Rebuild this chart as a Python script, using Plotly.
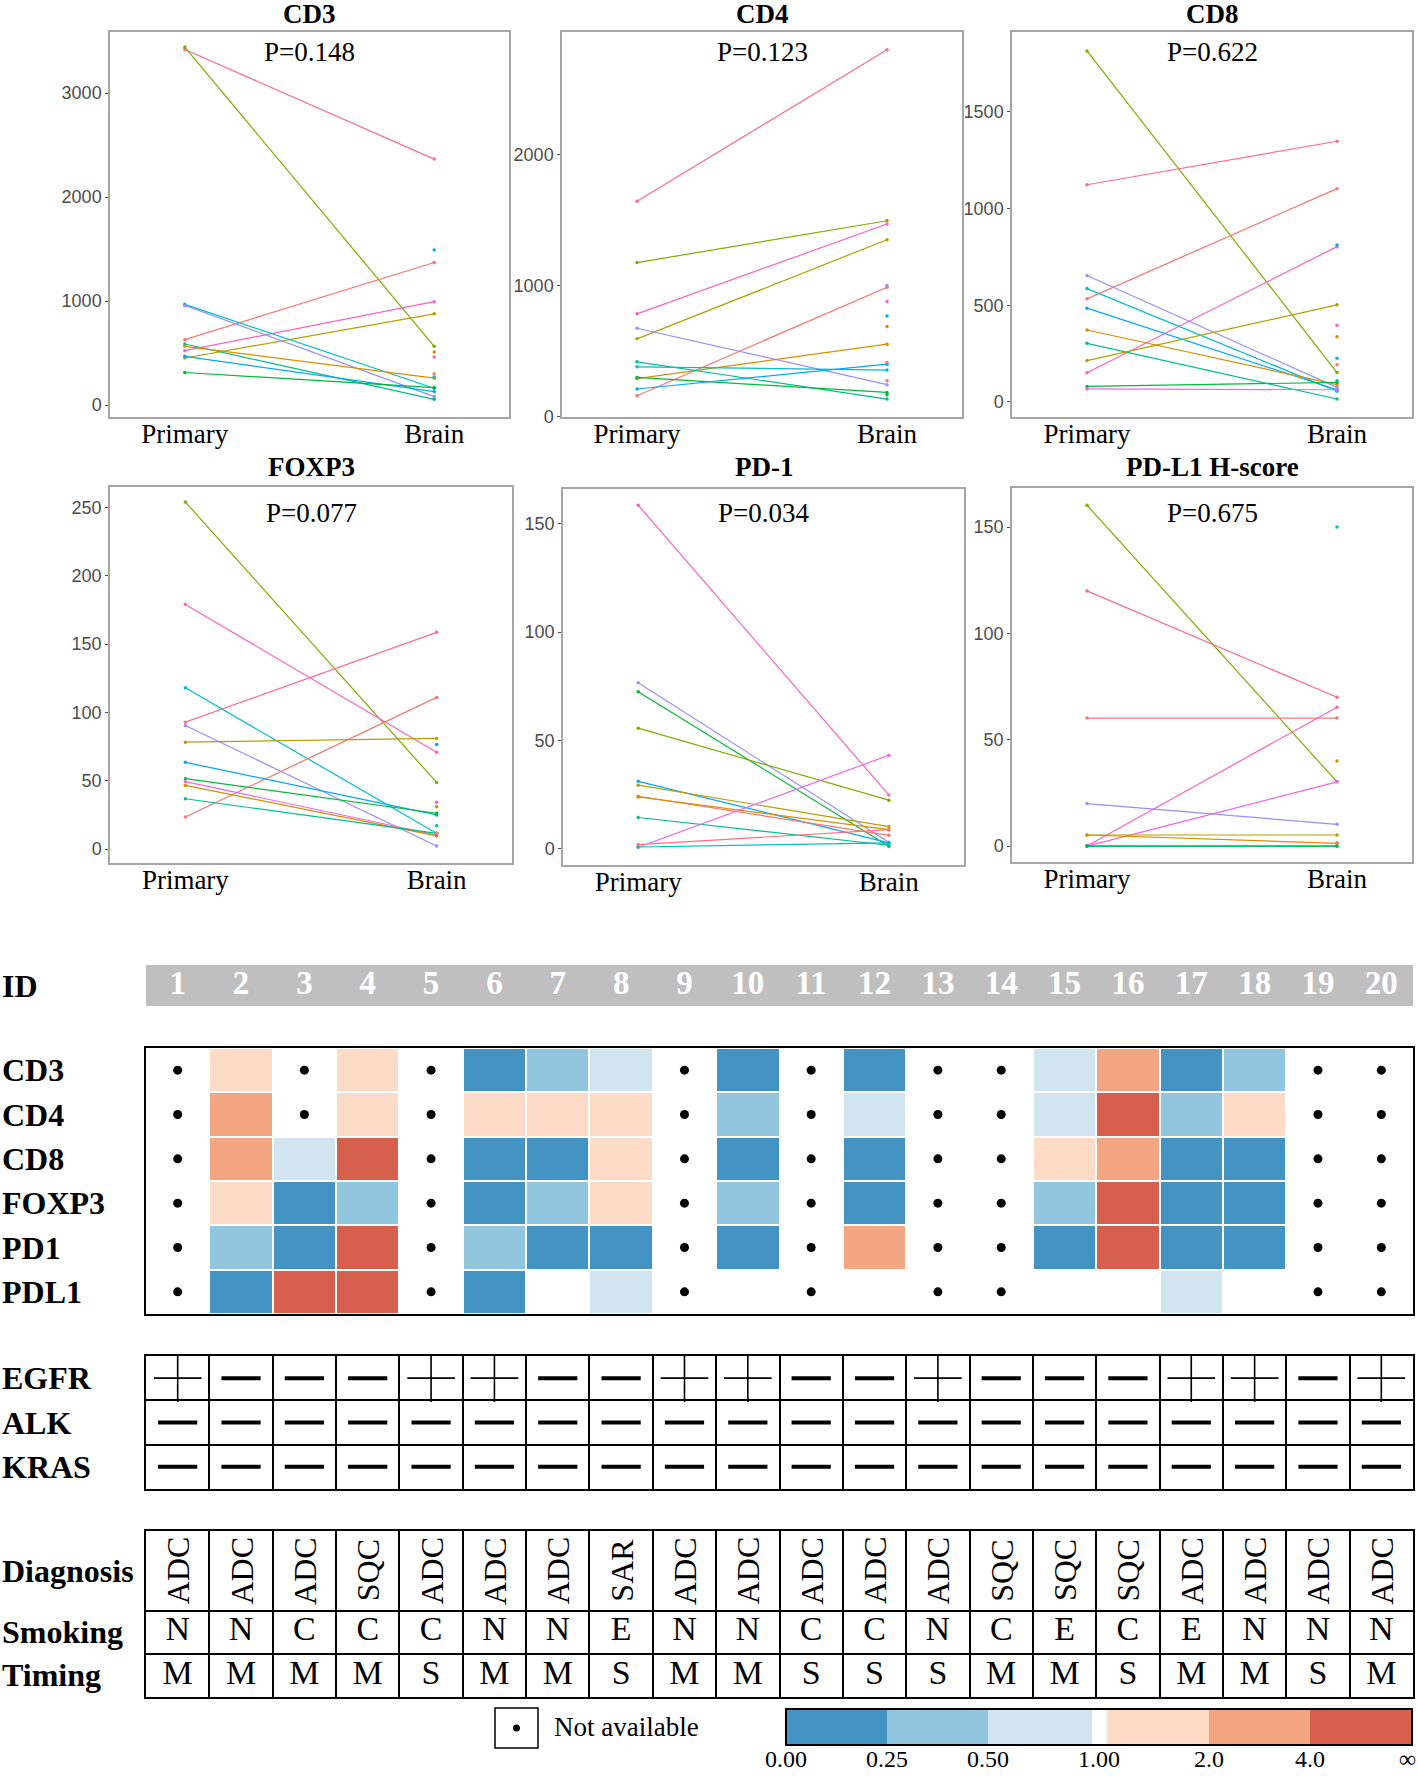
import numpy as np
import plotly.graph_objects as go

W, H = 1418, 1776
SERIF = "Liberation Serif"
SANS = "Liberation Sans"

# ---------------- paired line-plot data (Primary -> Brain) ----------------
SITES = ["Primary", "Brain"]
PANEL_TITLES = ["CD3", "CD4", "CD8", "FOXP3", "PD-1", "PD-L1 H-score"]
P_TEXT = ["P=0.148", "P=0.123", "P=0.622", "P=0.077", "P=0.034", "P=0.675"]

cd3_pts = ["L", "D", "A", "J", "C", "G", "I", "F", "B", "H", "E"]
cd3_primary = [3419, 3442, 629, 523, 452, 968, 958, 587, 565, 468, 313]
cd3_brain = [2365, 565, 1371, 994, 877, 161, 81, 55, 258, 129, 168]
cd3_bo_pts = ["H", "B", "J", "A", "G"]
cd3_bo = [1490, 510, 461, 300, 270]

cd4_pts = ["L", "D", "J", "C", "I", "A", "B", "F", "G", "E", "H"]
cd4_primary = [1646, 1176, 784, 593, 674, 158, 288, 417, 379, 298, 209]
cd4_brain = [2804, 1496, 1471, 1351, 242, 987, 552, 132, 354, 183, 399]
cd4_bo_pts = ["I", "J", "H", "B", "A", "L", "E"]
cd4_bo = [1000, 878, 768, 687, 412, 272, 165]

cd8_pts = ["D", "L", "A", "J", "I", "G", "H", "B", "F", "C", "E", "K"]
cd8_primary = [1815, 1123, 533, 151, 654, 586, 485, 372, 303, 214, 80, 67]
cd8_brain = [152, 1348, 1103, 803, 75, 55, 63, 89, 15, 502, 101, 63]
cd8_bo_pts = ["H", "J", "B", "G", "A", "F"]
cd8_bo = [812, 397, 337, 226, 192, 110]

foxp3_pts = ["D", "J", "L", "G", "A", "I", "C", "H", "E", "K", "B", "F"]
foxp3_primary = [254, 179, 92.9, 118, 23.5, 90.4, 78.2, 63.5, 51.5, 49.3, 46.6, 36.8]
foxp3_brain = [48.8, 70.8, 158.6, 11.5, 111, 2.2, 81, 25, 26.2, 10.3, 9.6, 11.5]
foxp3_bo_pts = ["H", "J", "B", "F", "A"]
foxp3_bo = [76.5, 34.3, 31, 17, 11.5]

pd1_pts = ["J", "I", "E", "D", "H", "C", "A", "B", "F", "K", "M", "G"]
pd1_primary = [158.5, 76.6, 72.5, 55.7, 31.2, 29.4, 24.3, 24.0, 14.5, 0.8, 2.0, 0.9]
pd1_brain = [24.9, 3.1, 1.2, 22.5, 2.8, 10.3, 6.3, 8.9, 1.7, 43.2, 8.9, 2.8]
pd1_bo_pts = []
pd1_bo = []

pdl1_pts = ["D", "L", "A", "J", "K", "I", "C", "B", "H", "E"]
pdl1_primary = [160.3, 120, 60.2, 0, 0, 20, 5.2, 5.2, 0, 0]
pdl1_brain = [30.2, 70, 60.2, 65.3, 30.2, 10.2, 5.2, 1.25, 0, 0]
pdl1_bo_pts = ["G", "B", "A"]
pdl1_bo = [150, 40, 1.6]

PANEL_DATA = [
    (cd3_pts, cd3_primary, cd3_brain, cd3_bo_pts, cd3_bo),
    (cd4_pts, cd4_primary, cd4_brain, cd4_bo_pts, cd4_bo),
    (cd8_pts, cd8_primary, cd8_brain, cd8_bo_pts, cd8_bo),
    (foxp3_pts, foxp3_primary, foxp3_brain, foxp3_bo_pts, foxp3_bo),
    (pd1_pts, pd1_primary, pd1_brain, pd1_bo_pts, pd1_bo),
    (pdl1_pts, pdl1_primary, pdl1_brain, pdl1_bo_pts, pdl1_bo),
]
Y_TICKS = [[0, 1000, 2000, 3000], [0, 1000, 2000], [0, 500, 1000, 1500],
           [0, 50, 100, 150, 200, 250], [0, 50, 100, 150], [0, 50, 100, 150]]

# ---------------- heatmap / table data ----------------
IDS = list(range(1, 21))
HEAT_ROWS = ["CD3", "CD4", "CD8", "FOXP3", "PD1", "PDL1"]
NA = "NA"        # not available (dot)
# None = ratio undefined (blank cell)
fc_cd3 = [NA, 1.5, NA, 1.5, NA, 0.15, 0.4, 0.75, NA, 0.15, NA, 0.15, NA, NA, 0.75, 3, 0.15, 0.4, NA, NA]
fc_cd4 = [NA, 3, NA, 1.5, NA, 1.5, 1.5, 1.5, NA, 0.4, NA, 0.75, NA, NA, 0.75, 6, 0.4, 1.5, NA, NA]
fc_cd8 = [NA, 3, 0.75, 6, NA, 0.15, 0.15, 1.5, NA, 0.15, NA, 0.15, NA, NA, 1.5, 3, 0.15, 0.15, NA, NA]
fc_foxp3 = [NA, 1.5, 0.15, 0.4, NA, 0.15, 0.4, 1.5, NA, 0.4, NA, 0.15, NA, NA, 0.4, 6, 0.15, 0.15, NA, NA]
fc_pd1 = [NA, 0.4, 0.15, 6, NA, 0.4, 0.15, 0.15, NA, 0.15, NA, 3, NA, NA, 0.15, 6, 0.15, 0.15, NA, NA]
fc_pdl1 = [NA, 0.15, 6, 6, NA, 0.15, None, 0.75, NA, None, NA, None, NA, NA, None, None, 0.75, None, NA, NA]
HEAT_DATA = [fc_cd3, fc_cd4, fc_cd8, fc_foxp3, fc_pd1, fc_pdl1]

CB_LABELS = ["0.00", "0.25", "0.50", "1.00", "2.0", "4.0", "∞"]
CB_RATIOS = [0, 0.25, 0.5, 1, 2, 4, 8]

MUT_ROWS = ["EGFR", "ALK", "KRAS"]
egfr = list("+---++--++--+---++-+")
alk = list("-" * 20)
kras = list("-" * 20)
MUT_DATA = [egfr, alk, kras]

diagnosis = ["ADC", "ADC", "ADC", "SQC", "ADC", "ADC", "ADC", "SAR", "ADC", "ADC",
             "ADC", "ADC", "ADC", "SQC", "SQC", "SQC", "ADC", "ADC", "ADC", "ADC"]
smoking = list("NNCCCNNENNCCNCECENNN")
timing = list("MMMMSMMSMMSSSMMSMMSM")

# ---------------- styles / geometry ----------------
PATIENT_COLORS = {"A": "#F8766D", "B": "#D89000", "C": "#B79F00", "D": "#7CAE00",
                  "E": "#00BA38", "F": "#00C08B", "G": "#00BFC4", "H": "#00A9FF",
                  "I": "#9590FF", "J": "#FF61C3", "K": "#F564E3", "L": "#FF6C91",
                  "M": "#FC717F"}
PANEL_BOX = [(110, 509, 32, 417), (562, 962, 32, 417), (1012, 1412, 32, 417),
             (110, 512, 487, 863), (563, 964, 489, 865), (1012, 1412, 488, 862)]
Y_RANGE = [[-115, 3587], [-5, 2940], [-78, 1913], [-10.2, 265], [-7.4, 166], [-7.5, 168.4]]
TITLE_Y = [14, 14, 14, 467, 467, 467]
PTXT_Y = [52, 52, 52, 513, 513, 513]

CB_X0, CB_X1 = 786, 1412
CB_POS = [0, 0.161, 0.323, 0.5, 0.675, 0.837, 1]
CB_EDGES = [0, 0.161, 0.323, 0.489, 0.512, 0.675, 0.837, 1]
CB_COLORS = ["#4393C3", "#92C5DE", "#D1E5F0", "#FFFFFF", "#FDDBC7", "#F4A582", "#D6604D"]


def xdom(x0, x1):
    return [x0 / W, x1 / W]


def ydom(y0, y1):
    return [1 - y1 / H, 1 - y0 / H]


fig = go.Figure()
layout = dict(width=W, height=H, margin=dict(l=0, r=0, t=0, b=0, autoexpand=False),
              autosize=False, plot_bgcolor="white", paper_bgcolor="white", showlegend=False)
annotations = []
shapes = []

# ---------------- line panels ----------------
for i, (pts, pri, bra, bo_pts, bo_vals) in enumerate(PANEL_DATA):
    n = i + 1
    xa, ya = f"x{n}", f"y{n}"
    x0, x1, y0, y1 = PANEL_BOX[i]
    for p, a, b in zip(pts, pri, bra):
        c = PATIENT_COLORS[p]
        fig.add_trace(go.Scatter(x=SITES, y=[a, b], mode="lines+markers",
                                 line=dict(color=c, width=1.2), marker=dict(size=3.5, color=c),
                                 xaxis=xa, yaxis=ya, hoverinfo="skip"))
    for p, b in zip(bo_pts, bo_vals):
        c = PATIENT_COLORS[p]
        fig.add_trace(go.Scatter(x=[SITES[1]], y=[b], mode="markers",
                                 marker=dict(size=3.5, color=c), xaxis=xa, yaxis=ya, hoverinfo="skip"))
    layout[f"xaxis{n}"] = dict(domain=xdom(x0, x1), anchor=ya, type="category",
                               range=[-0.3, 1.3], showgrid=False, zeroline=False,
                               showline=True, mirror=True, linecolor="#A6A6A6", linewidth=1.5,
                               ticks="", ticklabelstandoff=-8,
                               tickfont=dict(family=SERIF, size=27, color="black"))
    layout[f"yaxis{n}"] = dict(domain=ydom(y0, y1), anchor=xa, range=Y_RANGE[i],
                               tickvals=Y_TICKS[i], showgrid=False, zeroline=False,
                               showline=True, mirror=True, linecolor="#A6A6A6", linewidth=1.5,
                               ticks="outside", ticklen=3, tickcolor="#4D4D4D",
                               tickfont=dict(family=SANS, size=18, color="#4D4D4D"))
    cx = (x0 + x1) / 2 / W
    annotations.append(dict(text=f"<b>{PANEL_TITLES[i]}</b>", xref="paper", yref="paper",
                            x=cx, y=1 - TITLE_Y[i] / H, xanchor="center", yanchor="middle",
                            showarrow=False, font=dict(family=SERIF, size=27, color="black")))
    annotations.append(dict(text=P_TEXT[i], xref="paper", yref="paper",
                            x=cx, y=1 - PTXT_Y[i] / H, xanchor="center", yanchor="middle",
                            showarrow=False, font=dict(family=SERIF, size=27, color="black")))

# ---------------- lower block axes ----------------
LX0, LX1 = 146, 1413
BLOCKS = {7: (965, 1006), 8: (1048, 1314), 9: (1356, 1489), 10: (1531, 1610), 11: (1610, 1697)}
for n, (ya0, ya1) in BLOCKS.items():
    is_table = n in (9, 10, 11)
    layout[f"xaxis{n}"] = dict(domain=xdom(LX0, LX1), anchor=f"y{n}", range=[0.5, 20.5],
                               showticklabels=False, ticks="", zeroline=False,
                               showgrid=is_table, gridcolor="black", gridwidth=1.5,
                               tickvals=[k + 0.5 for k in IDS[:-1]],
                               showline=(n != 7), mirror=(n != 11), linecolor="black", linewidth=2)
    layout[f"yaxis{n}"] = dict(domain=ydom(ya0, ya1), anchor=f"x{n}",
                               showticklabels=False, ticks="", zeroline=False,
                               showline=(n != 7), mirror=True, linecolor="black", linewidth=2,
                               showgrid=False)

layout["yaxis7"]["range"] = [-0.5, 0.5]
layout["yaxis8"]["range"] = [len(HEAT_ROWS) - 0.5, -0.5]
layout["yaxis9"].update(range=[len(MUT_ROWS) - 0.5, -0.5], showgrid=True, gridcolor="black",
                        gridwidth=1.5, tickvals=[0.5, 1.5])
layout["yaxis10"]["range"] = [0.5, -0.5]
layout["yaxis11"].update(range=[1.5, -0.5], showgrid=True, gridcolor="black",
                         gridwidth=1.5, tickvals=[0.5])

# ID bar
shapes.append(dict(type="rect", xref="x7 domain", yref="y7 domain", x0=0, x1=1, y0=0, y1=1,
                   fillcolor="#BFBFBF", line=dict(width=0), layer="below"))
fig.add_trace(go.Scatter(x=IDS, y=[0] * len(IDS), mode="text", text=[str(i) for i in IDS],
                         textfont=dict(family=SERIF, size=33, color="white", weight="bold"),
                         xaxis="x7", yaxis="y7", hoverinfo="skip"))

# heatmap
z = []
na_x, na_y = [], []
for r, row in enumerate(HEAT_DATA):
    zr = []
    for j, v in enumerate(row):
        if v == NA:
            zr.append(np.nan)
            na_x.append(IDS[j])
            na_y.append(r)
        elif v is None:
            zr.append(np.nan)
        else:
            zr.append(float(np.interp(v, CB_RATIOS, CB_POS)))
    z.append(zr)

colorscale = []
for k, c in enumerate(CB_COLORS):
    colorscale.append([CB_EDGES[k], c])
    colorscale.append([CB_EDGES[k + 1], c])

fig.add_trace(go.Heatmap(
    z=z, x=IDS, y=list(range(len(HEAT_ROWS))), zmin=0, zmax=1, colorscale=colorscale,
    xgap=2, ygap=2, xaxis="x8", yaxis="y8", hoverinfo="skip",
    colorbar=dict(orientation="h", lenmode="pixels", len=CB_X1 - CB_X0, thicknessmode="pixels",
                  thickness=36, x=(CB_X0 + CB_X1) / 2 / W, xanchor="center",
                  y=1 - 1709 / H, yanchor="top", xpad=0, ypad=0,
                  outlinewidth=2, outlinecolor="black", tickvals=CB_POS,
                  ticks="", showticklabels=False)))
fig.add_trace(go.Scatter(x=na_x, y=na_y, mode="markers", marker=dict(size=9, color="black"),
                         xaxis="x8", yaxis="y8", hoverinfo="skip"))

# colorbar labels
for k, (lab, p) in enumerate(zip(CB_LABELS, CB_POS)):
    last = k == len(CB_LABELS) - 1
    annotations.append(dict(text=lab, xref="paper", yref="paper",
                            x=(CB_X0 + p * (CB_X1 - CB_X0)) / W if not last else 1.0,
                            y=1 - 1759 / H, xanchor="right" if last else "center",
                            yanchor="middle", showarrow=False,
                            font=dict(family=SERIF, size=24, color="black")))

# mutation table
for sym, marker in (("+", dict(symbol="cross-thin", size=34, line=dict(width=1.6, color="black"))),
                    ("-", dict(symbol="line-ew", size=28, line=dict(width=4, color="black")))):
    xs, ys = [], []
    for r, row in enumerate(MUT_DATA):
        for j, v in enumerate(row):
            if v == sym:
                xs.append(IDS[j])
                ys.append(r)
    fig.add_trace(go.Scatter(x=xs, y=ys, mode="markers", marker=marker,
                             xaxis="x9", yaxis="y9", hoverinfo="skip"))

# diagnosis (rotated text)
for j, d in enumerate(diagnosis):
    annotations.append(dict(text=d, xref="x10", yref="y10", x=IDS[j], y=0, textangle=-90,
                            showarrow=False, xanchor="center", yanchor="middle",
                            font=dict(family=SERIF, size=32, color="black")))
# smoking / timing
for r, row in enumerate([smoking, timing]):
    fig.add_trace(go.Scatter(x=IDS, y=[r] * len(IDS), mode="text", text=row,
                             textfont=dict(family=SERIF, size=34, color="black"),
                             xaxis="x11", yaxis="y11", hoverinfo="skip"))


# row labels
def row_label(text, yref, y):
    annotations.append(dict(text=f"<b>{text}</b>", xref="paper", yref=yref, x=0, y=y,
                            xanchor="left", yanchor="middle", showarrow=False,
                            font=dict(family=SERIF, size=32, color="black")))


row_label("ID", "y7", 0)
for r, name in enumerate(HEAT_ROWS):
    row_label(name, "y8", r)
for r, name in enumerate(MUT_ROWS):
    row_label(name, "y9", r)
row_label("Diagnosis", "y10", 0)
row_label("Smoking", "y11", 0)
row_label("Timing", "y11", 1)

# "Not available" key
shapes.append(dict(type="rect", xref="paper", yref="paper", x0=495 / W, x1=538 / W,
                   y0=1 - 1748 / H, y1=1 - 1708 / H, line=dict(color="black", width=1.5)))
shapes.append(dict(type="circle", xref="paper", yref="paper", x0=513 / W, x1=520 / W,
                   y0=1 - 1731.5 / H, y1=1 - 1724.5 / H, fillcolor="black",
                   line=dict(color="black", width=0)))
annotations.append(dict(text="Not available", xref="paper", yref="paper", x=552 / W,
                        y=1 - 1727 / H, xanchor="left", yanchor="middle", showarrow=False,
                        font=dict(family=SERIF, size=27, color="black")))

layout["annotations"] = annotations
layout["shapes"] = shapes
fig.update_layout(**layout)
fig.write_html("out.html", config={"displayModeBar": False},
               post_script="document.body.style.margin='0px';")
